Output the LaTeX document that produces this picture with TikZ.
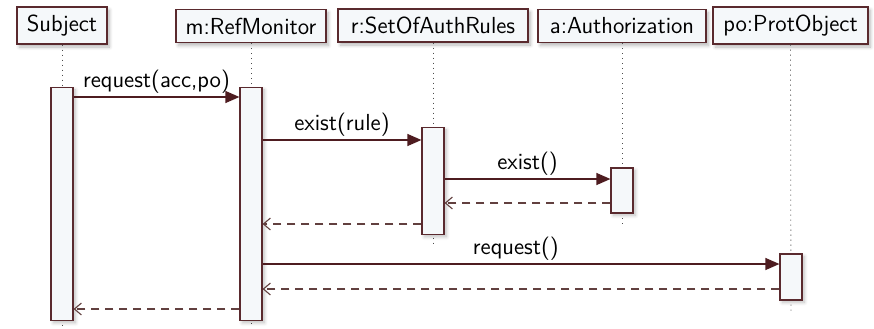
\documentclass[tikz,border=0pt]{standalone}
\usetikzlibrary{arrows.meta,shadows.blur}
\definecolor{edge}{HTML}{5A2A2E}
\definecolor{msgc}{HTML}{4E1C20}
\definecolor{retc}{HTML}{62403F}
\definecolor{boxfill}{HTML}{F5F8FA}
\begin{document}
\begin{tikzpicture}[x=0.5pt,y=-0.5pt,
  font=\sffamily\fontsize{11.6}{13}\selectfont,
  head/.style={draw=edge, line width=0.6pt, fill=boxfill, inner sep=0pt,
    minimum height=16.5pt,
    blur shadow={shadow xshift=1.2pt, shadow yshift=-1.5pt, shadow blur steps=6, shadow opacity=28}},
  bar/.style={draw=edge, line width=0.6pt, fill=boxfill, minimum width=11pt, inner sep=0pt,
    blur shadow={shadow xshift=1.2pt, shadow yshift=-1.2pt, shadow blur steps=6, shadow opacity=25}},
  life/.style={draw=black!70, line width=0.4pt, dash pattern=on 0.5pt off 2pt},
  msg/.style={draw=msgc, line width=0.6pt, -{Triangle[length=7pt,width=6pt]}},
  ret/.style={draw=retc, line width=0.55pt, dash pattern=on 4pt off 3pt,
    -{Straight Barb[length=3.5pt,width=6pt]}},
  lbl/.style={above, inner sep=1.5pt}]
\useasboundingbox (0,0) rectangle (874,328);

% lifeline heads
\node[head, minimum width=45pt, minimum height=18.5pt] (subj) at (62,25.5) {Subject};
\node[head, minimum width=75pt] (mon) at (251,26) {m:RefMonitor};
\node[head, minimum width=95pt] (rules) at (433,25.5) {r:SetOfAuthRules};
\node[head, minimum width=84pt] (auth) at (622,26) {a:Authorization};
\node[head, minimum width=77.5pt, minimum height=18.5pt] (obj) at (790.5,25.5) {po:ProtObject};

% lifeline ends
\coordinate (subjend) at (62,327);
\coordinate (monend) at (251,327);
\coordinate (rulesend) at (433,246);
\coordinate (authend) at (622,224);
\coordinate (objend) at (791,311);

% dotted lifelines
\draw[life] (subj.south) -- (subjend);
\draw[life] (mon.south) -- (monend);
\draw[life] (rules.south) -- (rulesend);
\draw[life] (auth.south) -- (authend);
\draw[life] (obj.south) -- (objend);

% activation bars
\node[bar, minimum height=116.5pt] (asubj) at (62,204) {};
\node[bar, minimum height=116.5pt] (amon) at (251,204) {};
\node[bar, minimum height=53.5pt] (arules) at (433,181) {};
\node[bar, minimum height=22.5pt] (aauth) at (622,190.5) {};
\node[bar, minimum height=23pt] (aobj) at (791,277) {};

% messages
\draw[msg] (asubj.east |- 0,97) -- node[lbl]{request(acc,po)} (amon.west |- 0,97);
\draw[msg] (amon.east |- 0,140) -- node[lbl]{exist(rule)} (arules.west |- 0,140);
\draw[msg] (arules.east |- 0,179) -- node[lbl]{exist()} (aauth.west |- 0,179);
\draw[ret] (aauth.west |- 0,203) -- (arules.east |- 0,203);
\draw[ret] (arules.west |- 0,224) -- (amon.east |- 0,224);
\draw[msg] (amon.east |- 0,264) -- node[lbl, pos=0.49]{request()} (aobj.west |- 0,264);
\draw[ret] (aobj.west |- 0,289) -- (amon.east |- 0,289);
\draw[ret] (amon.west |- 0,309) -- (asubj.east |- 0,309);
\end{tikzpicture}
\end{document}
